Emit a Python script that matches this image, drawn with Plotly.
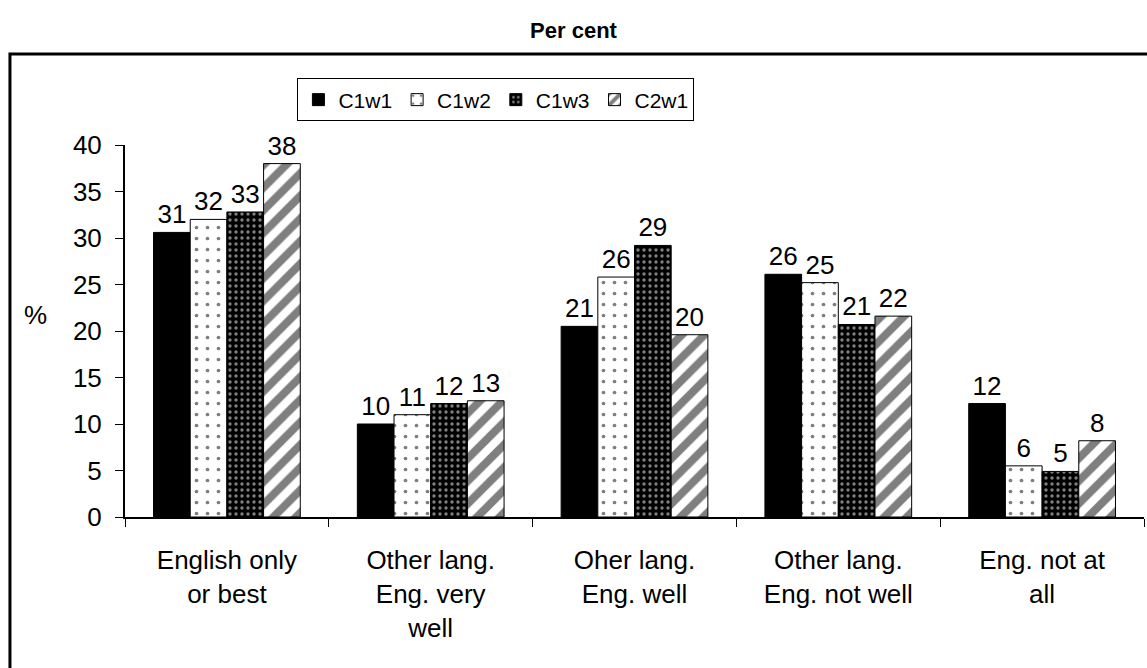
import plotly.graph_objects as go

categories = ["English only<br>or best", "Other lang.<br>Eng. very<br>well", "Oher lang.<br>Eng. well",
              "Other lang.<br>Eng. not well", "Eng. not at<br>all"]
series_names = ["C1w1", "C1w2", "C1w3", "C2w1"]
c1w1 = [30.6, 10.0, 20.5, 26.1, 12.2]
c1w2 = [32.0, 11.0, 25.8, 25.2, 5.5]
c1w3 = [32.8, 12.2, 29.2, 20.7, 4.9]
c2w1 = [38.0, 12.5, 19.6, 21.6, 8.2]
labels = [
    ["31", "10", "21", "26", "12"],
    ["32", "11", "26", "25", "6"],
    ["33", "12", "29", "21", "5"],
    ["38", "13", "20", "22", "8"],
]
y_ticks = [0, 5, 10, 15, 20, 25, 30, 35, 40]

styles = [
    dict(color="black", pattern=dict(shape="")),
    dict(color="white", pattern=dict(shape=".", fgcolor="black", bgcolor="white", size=11, solidity=0.09)),
    dict(color="black", pattern=dict(shape=".", fgcolor="white", bgcolor="black", size=6, solidity=0.25)),
    dict(color="white", pattern=dict(shape="/", fgcolor="black", bgcolor="white", size=16, solidity=0.5)),
]

fig = go.Figure()
for name, vals, lab, st in zip(series_names, [c1w1, c1w2, c1w3, c2w1], labels, styles):
    fig.add_trace(go.Bar(
        x=categories, y=vals, name=name, text=lab, textposition="outside",
        textfont=dict(size=26, color="black", family="Liberation Sans, Arial"),
        cliponaxis=False,
        marker=dict(color=st["color"], pattern=st["pattern"], line=dict(color="black", width=1)),
    ))

fig.update_layout(
    width=1147, height=668,
    margin=dict(l=125, r=3, t=145, b=151),
    paper_bgcolor="white", plot_bgcolor="white",
    barmode="group", bargap=0.28, bargroupgap=0,
    font=dict(family="Liberation Sans, Arial", color="black", size=26),
    title=dict(text="<b>Per cent</b>", x=0.5, xanchor="center", y=0.955, yanchor="middle",
               font=dict(size=22, color="black")),
    showlegend=True,
    legend=dict(orientation="h", x=0.364, xanchor="center", y=1.121, yanchor="middle",
                bordercolor="black", borderwidth=1, font=dict(size=21), bgcolor="white",
                traceorder="normal", itemwidth=30),
    xaxis=dict(showline=True, linecolor="black", linewidth=2, ticks="outside", ticklen=8,
               tickcolor="black", tickson="boundaries", tickfont=dict(size=26), showgrid=False,
               ticklabelstandoff=19),
    yaxis=dict(range=[0, 40], tickvals=y_ticks, showline=True, linecolor="black", linewidth=2,
               ticks="outside", ticklen=8, tickcolor="black", showgrid=False, zeroline=False,
               tickfont=dict(size=26), ticklabelstandoff=8),
)
fig.add_annotation(text="%", xref="paper", yref="paper", x=-0.088, y=0.543, showarrow=False,
                   xanchor="center", font=dict(size=26))
fig.add_shape(type="rect", xref="paper", yref="paper", x0=-0.1129, x1=1.01, y0=-0.45, y1=1.2446,
              line=dict(color="black", width=3), fillcolor="rgba(0,0,0,0)", layer="above")

fig.write_html("out.html")
